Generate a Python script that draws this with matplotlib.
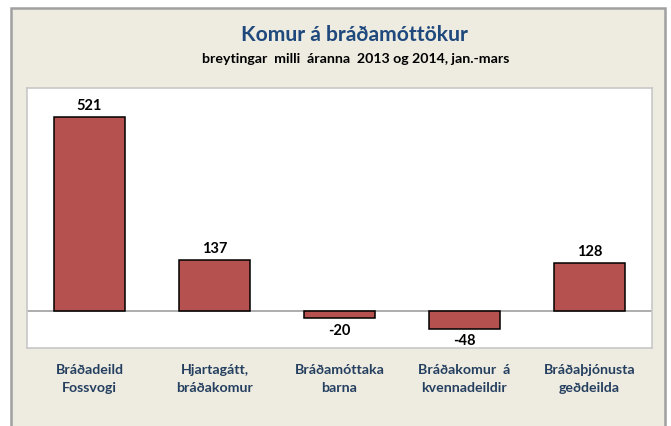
import matplotlib
matplotlib.use("Agg")
import matplotlib.pyplot as plt
from matplotlib.patches import Rectangle

categories = ["Bráðadeild\nFossvogi", "Hjartagátt,\nbráðakomur", "Bráðamóttaka\nbarna",
              "Bráðakomur  á\nkvennadeildir", "Bráðaþjónusta\ngeðdeilda"]
values = [521, 137, -20, -48, 128]
title = "Komur á bráðamóttökur"
subtitle = "breytingar  milli  áranna  2013 og 2014, jan.-mars"

plt.rcParams['font.family'] = ['Lato', 'DejaVu Sans']

W, H = 671, 426
fig = plt.figure(figsize=(W / 100, H / 100), dpi=100)
fig.patch.set_facecolor("white")

# outer beige frame
fig.patches.append(Rectangle((11 / W, -0.02), (665 - 11) / W, (H - 8) / H + 0.02,
                             transform=fig.transFigure, facecolor="#EEEBE0",
                             edgecolor="#A0A0A0", linewidth=1.8, zorder=-10))

ax = fig.add_axes([27 / W, (H - 348) / H, (652 - 27) / W, (348 - 88) / H])
ax.set_zorder(5)
ax.set_facecolor("white")
for s in ax.spines.values():
    s.set_color("#C8C8C8")
    s.set_linewidth(1.2)

x = list(range(len(values)))
ax.bar(x, values, width=0.575, color="#B5514F", edgecolor="black", linewidth=1.1, zorder=3)
ax.axhline(0, color="#A0A0A0", linewidth=1.2, zorder=2)
ax.set_xlim(-0.5, len(values) - 0.5)
ax.set_ylim(-100, 600)
ax.set_yticks([])
ax.set_xticks([])

for xi, v in zip(x, values):
    if v >= 0:
        ax.annotate(f"{v}", (xi, v), xytext=(0, 3), textcoords="offset points",
                    ha="center", va="bottom", fontsize=10.5, fontweight="bold", color="black")
    else:
        ax.annotate(f"{v}", (xi, v), xytext=(0, -4), textcoords="offset points",
                    ha="center", va="top", fontsize=10.5, fontweight="bold", color="black")

for xi, c in zip(x, categories):
    ax.text(xi, -0.062, c, transform=ax.get_xaxis_transform(), ha="center", va="top",
            fontsize=10.2, fontweight="bold", color="#243F60", linespacing=1.55)

fig.text(354 / W, 1 - 35 / H, title, ha="center", va="center", fontsize=15.2,
         fontweight="bold", color="#1F497D", zorder=6)
fig.text(356 / W, 1 - 59 / H, subtitle, ha="center", va="center", fontsize=10.2,
         fontweight="bold", color="black", zorder=6)

fig.savefig("out.png", dpi=100, facecolor=fig.get_facecolor())
